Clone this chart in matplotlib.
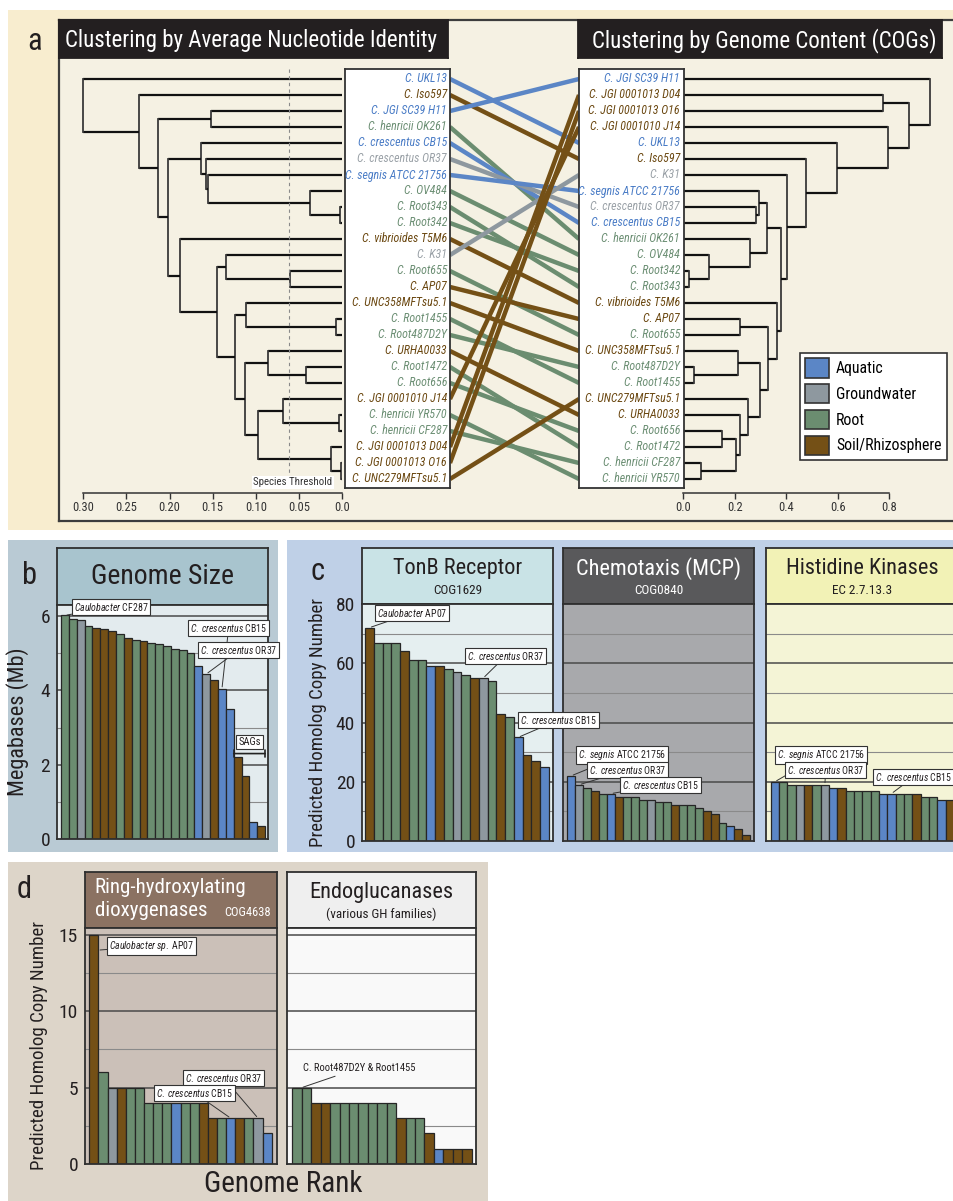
import numpy as np
import matplotlib
matplotlib.use("Agg")
import matplotlib.pyplot as plt
from matplotlib import font_manager
from matplotlib.patches import Rectangle, Patch

# habitat codes: A aquatic, G groundwater, R root, S soil/rhizosphere
habitat_colors = {"A": "#5b86c6", "G": "#8e989f", "R": "#6b8d70", "S": "#745016"}
label_colors = {"A": "#4a7cc6", "G": "#9aa1a7", "R": "#6c8f74", "S": "#6b4811"}
habitat_names = {"A": "Aquatic", "G": "Groundwater", "R": "Root", "S": "Soil/Rhizosphere"}

# panel a - leaf order of the two trees
ani_order = ["C. UKL13", "C. Iso597", "C. JGI SC39 H11", "C. henricii OK261",
             "C. crescentus CB15", "C. crescentus OR37", "C. segnis ATCC 21756",
             "C. OV484", "C. Root343", "C. Root342", "C. vibrioides T5M6", "C. K31",
             "C. Root655", "C. AP07", "C. UNC358MFTsu5.1", "C. Root1455",
             "C. Root487D2Y", "C. URHA0033", "C. Root1472", "C. Root656",
             "C. JGI 0001010 J14", "C. henricii YR570", "C. henricii CF287",
             "C. JGI 0001013 D04", "C. JGI 0001013 O16", "C. UNC279MFTsu5.1"]
ani_habitat = "ASARAGARRRSGRSSRRSRRSRRSSS"

cog_order = ["C. JGI SC39 H11", "C. JGI 0001013 D04", "C. JGI 0001013 O16",
             "C. JGI 0001010 J14", "C. UKL13", "C. Iso597", "C. K31",
             "C. segnis ATCC 21756", "C. crescentus OR37", "C. crescentus CB15",
             "C. henricii OK261", "C. OV484", "C. Root342", "C. Root343",
             "C. vibrioides T5M6", "C. AP07", "C. Root655", "C. UNC358MFTsu5.1",
             "C. Root487D2Y", "C. Root1455", "C. UNC279MFTsu5.1", "C. URHA0033",
             "C. Root656", "C. Root1472", "C. henricii CF287", "C. henricii YR570"]

# merges: (height, left, right)
ani_low = (0.112, (0.086, "C. URHA0033", (0.042, "C. Root1472", "C. Root656")),
           (0.098, (0.069, "C. JGI 0001010 J14", (0.003, "C. henricii YR570", "C. henricii CF287")),
            (0.013, "C. JGI 0001013 D04", (0.001, "C. JGI 0001013 O16", "C. UNC279MFTsu5.1"))))
ani_mid = (0.188, "C. vibrioides T5M6",
           (0.145, (0.134, "C. K31", (0.060, "C. Root655", "C. AP07")),
            (0.124, (0.111, "C. UNC358MFTsu5.1", (0.007, "C. Root1455", "C. Root487D2Y")),
             ani_low)))
ani_cres = (0.164, "C. crescentus CB15",
            (0.158, "C. crescentus OR37",
             (0.155, "C. segnis ATCC 21756",
              (0.037, "C. OV484", (0.002, "C. Root343", "C. Root342")))))
ani_tree = (0.300, "C. UKL13",
            (0.235, "C. Iso597",
             (0.214, (0.152, "C. JGI SC39 H11", "C. henricii OK261"),
              (0.202, ani_cres, ani_mid))))

cog_low = (0.298, (0.214, "C. UNC358MFTsu5.1", (0.041, "C. Root487D2Y", "C. Root1455")),
           (0.250, "C. UNC279MFTsu5.1",
            (0.220, "C. URHA0033",
             (0.203, (0.149, "C. Root656", "C. Root1472"),
              (0.069, "C. henricii CF287", "C. henricii YR570")))))
cog_mid = (0.378,
           (0.324, (0.294, "C. segnis ATCC 21756", (0.281, "C. crescentus OR37", "C. crescentus CB15")),
            (0.259, "C. henricii OK261", (0.098, "C. OV484", (0.022, "C. Root342", "C. Root343")))),
           (0.364, "C. vibrioides T5M6", (0.328, (0.220, "C. AP07", "C. Root655"), cog_low)))
cog_tree = (0.960, "C. JGI SC39 H11",
            (0.876, (0.777, "C. JGI 0001013 D04", "C. JGI 0001013 O16"),
             (0.796, "C. JGI 0001010 J14",
              (0.595, "C. UKL13",
               (0.475, "C. Iso597",
                (0.404, "C. K31", cog_mid))))))

species_threshold = 0.062

# panel b - genome size (Mb), ranked
genome_size = [6.02, 5.92, 5.90, 5.73, 5.68, 5.65, 5.59, 5.53, 5.42, 5.37, 5.33, 5.28, 5.24,
               5.20, 5.12, 5.10, 5.00, 4.66, 4.44, 4.28, 4.04, 3.50, 2.20, 1.70, 0.45, 0.36]
genome_size_hab = "RRGRSSSRSRSRRRRRRAGSAASSAS"

# panel c - copy numbers
tonb = [72, 67, 67, 67, 64, 61, 61, 59, 59, 58, 57, 56, 55, 55, 54, 43, 42, 35, 29, 27, 25]
tonb_hab = "SRRRSRRASRGRSGRSRASSA"
chemotaxis = [22, 19, 18, 17, 16, 16, 15, 15, 15, 14, 14, 13, 13, 12, 12, 12, 11, 10, 9, 6, 5, 4, 2]
chemotaxis_hab = "AGRSRASRRRGRRSRRRSSRASS"
histidine = [20, 20, 19, 19, 19, 19, 19, 18, 18, 17, 17, 17, 17, 16, 16, 16, 16, 16, 15, 15, 14, 14]
histidine_hab = "ARRGSRGASRRRRAARRSRRAS"

# panel d
dioxygenase = [15, 6, 5, 5, 5, 5, 4, 4, 4, 4, 4, 4, 4, 3, 3, 3, 3, 3, 3, 2]
dioxygenase_hab = "SRGSRRRRRARRSSRASRGA"
endoglucanase = [5, 5, 4, 4, 4, 4, 4, 4, 4, 4, 4, 3, 3, 3, 2, 1, 1, 1, 1]
endoglucanase_hab = "RRSSRRRRRRRSRRSASSS"


# a narrow face looks closest to the condensed type of the original
def pick_font():
    entries = font_manager.fontManager.ttflist
    names = {f.name for f in entries}
    for n in ["Liberation Sans Narrow", "Roboto Condensed", "Open Sans Condensed"]:
        if n in names:
            return n, "normal", 1.0
    for n in ["DejaVu Sans", "Noto Sans", "Open Sans", "Roboto"]:
        if any(f.name == n and str(f.stretch) in ("condensed", "semi-condensed", "500", "600")
               for f in entries):
            return n, "condensed", 0.9
    return "DejaVu Sans", "normal", 0.82


FONT, STRETCH, SC = pick_font()
plt.rcParams["font.family"] = [FONT, "DejaVu Sans"]
plt.rcParams["font.stretch"] = STRETCH
plt.rcParams["mathtext.fontset"] = "custom"
plt.rcParams["mathtext.rm"] = FONT + (":" + STRETCH if STRETCH != "normal" else "")
plt.rcParams["mathtext.it"] = FONT + ":italic" + (":" + STRETCH if STRETCH != "normal" else "")

W, H = 954, 1201
fig = plt.figure(figsize=(W / 100, H / 100), dpi=100)
fig.patch.set_facecolor("white")
DARK = "#2f2f2f"


def frac(x0, y0, x1, y1):
    return [x0 / W, 1 - y1 / H, (x1 - x0) / W, (y1 - y0) / H]


def bg(x0, y0, x1, y1, color):
    fig.patches.append(Rectangle((x0 / W, 1 - y1 / H), (x1 - x0) / W, (y1 - y0) / H,
                                 transform=fig.transFigure, facecolor=color,
                                 edgecolor="none", zorder=-10))


def blank(x0, y0, x1, y1, fc="none", ec=DARK, lw=1.3):
    ax = fig.add_axes(frac(x0, y0, x1, y1))
    ax.set_facecolor(fc)
    ax.set_xticks([])
    ax.set_yticks([])
    for s in ax.spines.values():
        s.set_edgecolor(ec)
        s.set_linewidth(lw)
    return ax


ROW0, ROWH = 79, 16


def row_lims(y0, y1):
    return (y1 - ROW0) / ROWH, (y0 - ROW0) / ROWH


def draw_tree(ax, node, rows):
    if isinstance(node, str):
        return rows[node], 0.0
    h, a, b = node
    ya, ha = draw_tree(ax, a, rows)
    yb, hb = draw_tree(ax, b, rows)
    ax.plot([ha, h], [ya, ya], color="#111111", lw=1.6, solid_capstyle="butt")
    ax.plot([hb, h], [yb, yb], color="#111111", lw=1.6, solid_capstyle="butt")
    ax.plot([h, h], [ya, yb], color="#3a3a3a", lw=1.3)
    return (ya + yb) / 2, h


def tree_axes(x0, x1, xlim, ticks, ticklabels, bounds):
    ax = fig.add_axes(frac(x0, 60, x1, 515))
    ax.patch.set_visible(False)
    ax.set_xlim(*xlim)
    ax.set_ylim(*row_lims(60, 515))
    for k in ("top", "left", "right"):
        ax.spines[k].set_visible(False)
    ax.spines["bottom"].set_position(("data", (493 - ROW0) / ROWH))
    ax.spines["bottom"].set_bounds(*bounds)
    ax.spines["bottom"].set_color("#333333")
    ax.spines["bottom"].set_linewidth(1.1)
    ax.set_yticks([])
    ax.set_xticks(ticks)
    ax.set_xticklabels(ticklabels)
    ax.tick_params(axis="x", length=4, width=1, color="#333333", labelsize=9 * SC,
                   pad=2, labelcolor="#333333")
    return ax


# ---------------- panel a ----------------
bg(8, 10, 954, 530, "#f8edcf")
blank(59, 20, 970, 521, fc="#f5f1e3", ec="#3c3c3c", lw=1.6)
t1 = blank(59, 20, 448, 58, fc="#231f20", ec="#231f20")
t1.text(0.016, 0.47, "Clustering by Average Nucleotide Identity", color="white",
        fontsize=16.5 * SC, ha="left", va="center", transform=t1.transAxes)
t2 = blank(578, 20, 942, 58, fc="#231f20", ec="#231f20")
t2.text(0.985, 0.47, "Clustering by Genome Content (COGs)", color="white",
        fontsize=16.5 * SC, ha="right", va="center", transform=t2.transAxes)
fig.text(35 / W, 1 - 42 / H, "a", fontsize=22, ha="center", va="center", color="#231f20")

ani_rows = {n: i for i, n in enumerate(ani_order)}
cog_rows = {n: i for i, n in enumerate(cog_order)}
hab_of = dict(zip(ani_order, ani_habitat))

axL = tree_axes(60, 345, ((342 - 60) / 862, (342 - 345) / 862),
                [0.30, 0.25, 0.20, 0.15, 0.10, 0.05, 0.0],
                ["0.30", "0.25", "0.20", "0.15", "0.10", "0.05", "0.0"], (0, 0.30))
draw_tree(axL, ani_tree, ani_rows)
axL.plot([species_threshold] * 2, [-0.65, 24.9], color="#8a8a8a", lw=0.8, ls=(0, (3, 3)))
axL.text(0.057, 25.2, "Species Threshold", fontsize=7.8 * SC, ha="center", va="center",
         color="#333333", bbox=dict(boxstyle="square,pad=0.12", fc="white", ec="none"))

axR = tree_axes(680, 954, ((680 - 683.3) / 257.5, (954 - 683.3) / 257.5),
                [0, 0.2, 0.4, 0.6, 0.8], ["0.0", "0.2", "0.4", "0.6", "0.8"], (0, 0.8))
draw_tree(axR, cog_tree, cog_rows)

axM = fig.add_axes(frac(448, 60, 581, 515))
axM.set_axis_off()
axM.set_xlim(-2 / 129, 1 + 2 / 129)
axM.set_ylim(*row_lims(60, 515))
for name in ani_order:
    axM.plot([0, 1], [ani_rows[name], cog_rows[name]], color=habitat_colors[hab_of[name]],
             lw=3.2, solid_capstyle="butt")

for (x0, x1, order, tx) in [(345, 450, ani_order, 0.972), (579, 684, cog_order, 0.962)]:
    box = blank(x0, 69, x1, 488, fc="white", ec="#333333", lw=1.3)
    box.set_xlim(0, 1)
    box.set_ylim(*row_lims(69, 488))
    for i, name in enumerate(order):
        box.text(tx, i, name, ha="right", va="center", fontsize=8.6 * SC, style="italic",
                 color=label_colors[hab_of[name]])

leg = fig.legend(handles=[Patch(facecolor=habitat_colors[k], edgecolor="#333333", lw=1.2,
                                label=habitat_names[k]) for k in "AGRS"],
                 loc="upper left", bbox_to_anchor=(800 / W, 1 - 353 / H), frameon=True,
                 fancybox=False, edgecolor="#333333", framealpha=1, fontsize=11.3 * SC,
                 handlelength=1.5, handleheight=1.5, handletextpad=0.45,
                 labelspacing=0.42, borderpad=0.35, borderaxespad=0)
leg.get_frame().set_linewidth(1.2)


# ---------------- bar panels ----------------
def header(x0, y0, x1, y1, fc, title, sub=None, tc="#231f20", tfs=16, sfs=9.5):
    ax = blank(x0, y0, x1, y1, fc=fc)
    if sub is None:
        ax.text(0.5, 0.5, title, fontsize=tfs * SC, color=tc, ha="center", va="center",
                transform=ax.transAxes)
    else:
        ax.text(0.5, 0.63, title, fontsize=tfs * SC, color=tc, ha="center", va="center",
                transform=ax.transAxes)
        ax.text(0.5, 0.24, sub, fontsize=sfs * SC, color=tc, ha="center", va="center",
                transform=ax.transAxes)
    return ax


def bar_axes(x0, x1, y0, y1, fc, values, habs, ymax, minor, major, bar_x0, bar_w):
    ax = fig.add_axes(frac(x0, y0, x1, y1))
    ax.set_facecolor(fc)
    ax.set_ylim(0, ymax)
    ax.set_xlim((x0 - bar_x0) / bar_w - 0.5, (x1 - bar_x0) / bar_w - 0.5)
    for v in minor:
        ax.axhline(v, color="#8a8a8a", lw=0.8, zorder=0)
    for v in major:
        ax.axhline(v, color="#4a4a4a", lw=1.1, zorder=0)
    ax.bar(np.arange(len(values)), values, width=1.0,
           color=[habitat_colors[h] for h in habs], edgecolor="#262626", linewidth=0.9,
           zorder=2)
    ax.set_xticks([])
    ax.set_yticks([])
    ax.tick_params(axis="y", length=0, labelsize=14 * SC, pad=5, labelcolor="#231f20")
    for s in ax.spines.values():
        s.set_edgecolor(DARK)
        s.set_linewidth(1.3)
    return ax


def callout(ax, text, xy, left_px, cy_px, fs=7.1):
    ax.annotate(text, xy=xy, xytext=(left_px, H - cy_px), textcoords="figure pixels",
                ha="left", va="center", fontsize=fs * SC, color="#231f20", zorder=6,
                bbox=dict(boxstyle="square,pad=0.18", fc="white", ec="#333333", lw=0.8),
                arrowprops=dict(arrowstyle="-", color="#333333", lw=0.7,
                                shrinkA=0, shrinkB=1.5))


CC = r"$\it{C.\:crescentus}$"

# panel b
bg(8, 540, 278, 852, "#b9cad4")
fig.text(30 / W, 1 - 575 / H, "b", fontsize=22, ha="center", va="center", color="#231f20")
header(57, 548, 268, 605, "#a8c4ce", "Genome Size", tfs=20)
axb = bar_axes(57, 268, 605, 839, "#e3ebee", genome_size, genome_size_hab, 6.3,
               [1, 3, 5], [2, 4, 6], 61, 7.85)
axb.set_yticks([0, 2, 4, 6])
axb.set_ylabel("Megabases (Mb)", fontsize=16 * SC, color="#231f20", labelpad=8)
callout(axb, r"$\it{Caulobacter}$ CF287", (0, genome_size[0]), 74, 607)
callout(axb, CC + " CB15", (20, genome_size[20]), 190, 628)
callout(axb, CC + " OR37", (18, genome_size[18]), 200, 650)
axb.annotate("", xy=(21.5, 2.3), xytext=(25.5, 2.3),
             arrowprops=dict(arrowstyle="|-|,widthA=0.25,widthB=0.25", color="#222222", lw=1.2,
                             shrinkA=0, shrinkB=0))
axb.text(23.5, 2.62, "SAGs", fontsize=7.6 * SC, ha="center", va="center", color="#231f20",
         bbox=dict(boxstyle="square,pad=0.18", fc="white", ec="#333333", lw=0.8))

# panel c
bg(287, 540, 954, 852, "#bfd0e7")
fig.text(318 / W, 1 - 572 / H, "c", fontsize=22, ha="center", va="center", color="#231f20")
c_minor, c_major = [10, 30, 50, 70], [20, 40, 60]

header(362, 548, 553, 604, "#c9e3e6", "TonB Receptor", "COG1629")
axc1 = bar_axes(362, 553, 604, 841, "#e5eff0", tonb, tonb_hab, 80, c_minor, c_major, 365, 8.76)
axc1.set_yticks([0, 20, 40, 60, 80])
axc1.set_ylabel("Predicted Homolog Copy Number", fontsize=13.6 * SC, color="#231f20", labelpad=6)
axc1.set_zorder(3)

header(563, 548, 754, 604, "#59595b", "Chemotaxis (MCP)", "COG0840", tc="white")
axc2 = bar_axes(563, 754, 604, 841, "#a8a9ac", chemotaxis, chemotaxis_hab, 80, c_minor, c_major,
                567.3, 7.96)
axc2.set_zorder(2)

header(766, 548, 958, 604, "#f2f2b6", "Histidine Kinases", "EC 2.7.13.3")
axc3 = bar_axes(766, 958, 604, 841, "#f4f4d6", histidine, histidine_hab, 80, c_minor, c_major,
                770.7, 8.33)

callout(axc1, r"$\it{Caulobacter}$ AP07", (0, tonb[0]), 377, 613)
callout(axc1, CC + " OR37", (13, tonb[13]), 467, 656)
callout(axc1, CC + " CB15", (17, tonb[17]), 520, 720)
callout(axc2, r"$\it{C.\:segnis}$ ATCC 21756", (0, chemotaxis[0]), 578, 755)
callout(axc2, CC + " OR37", (1, chemotaxis[1]), 589, 770)
callout(axc2, CC + " CB15", (5, chemotaxis[5]), 622, 785)
callout(axc3, r"$\it{C.\:segnis}$ ATCC 21756", (0, histidine[0]), 777, 755)
callout(axc3, CC + " OR37", (6, histidine[6]), 787, 770)
callout(axc3, CC + " CB15", (14, histidine[14]), 875, 777)

# panel d
bg(8, 862, 488, 1201, "#ddd5c9")
fig.text(24 / W, 1 - 890 / H, "d", fontsize=22, ha="center", va="center", color="#231f20")
d_minor, d_major = [2.5, 7.5, 12.5], [5, 10, 15]

hd = blank(85, 872, 277, 928, fc="#8b7262")
hd.text(0.05, 0.73, "Ring-hydroxylating", fontsize=15 * SC, color="white",
        ha="left", va="center", transform=hd.transAxes)
hd.text(0.05, 0.32, "dioxygenases", fontsize=15 * SC, color="white",
        ha="left", va="center", transform=hd.transAxes)
hd.text(0.725, 0.28, "COG4638", fontsize=9 * SC, color="white", ha="left", va="center",
        transform=hd.transAxes)
axd1 = bar_axes(85, 277, 928, 1164, "#cbc0b8", dioxygenase, dioxygenase_hab, 15.45,
                d_minor, d_major, 89.3, 9.12)
axd1.set_yticks([0, 5, 10, 15])
axd1.set_ylabel("Predicted Homolog Copy Number", fontsize=13.6 * SC, color="#231f20", labelpad=8)

header(287, 872, 476, 928, "#efefef", "Endoglucanases", "(various GH families)")
axd2 = bar_axes(287, 476, 928, 1164, "#f9f9f9", endoglucanase, endoglucanase_hab, 15.45,
                d_minor, d_major, 292.3, 9.44)

callout(axd1, r"$\it{Caulobacter\:sp.}$ AP07", (0.45, dioxygenase[0] - 1), 109, 946)
callout(axd1, CC + " OR37", (18, dioxygenase[18]), 185, 1078)
callout(axd1, CC + " CB15", (15, dioxygenase[15]), 156, 1093)
axd2.annotate("C. Root487D2Y & Root1455", xy=(0.5, endoglucanase[0]), xytext=(303, H - 1068),
              textcoords="figure pixels", ha="left", va="center", fontsize=7.6 * SC,
              color="#231f20", arrowprops=dict(arrowstyle="-", color="#333333", lw=0.7,
                                               shrinkA=1, shrinkB=1))

fig.text(283 / W, 1 - 1184 / H, "Genome Rank", fontsize=21 * SC, ha="center", va="center",
         color="#231f20")

fig.savefig("out.png", dpi=100)
